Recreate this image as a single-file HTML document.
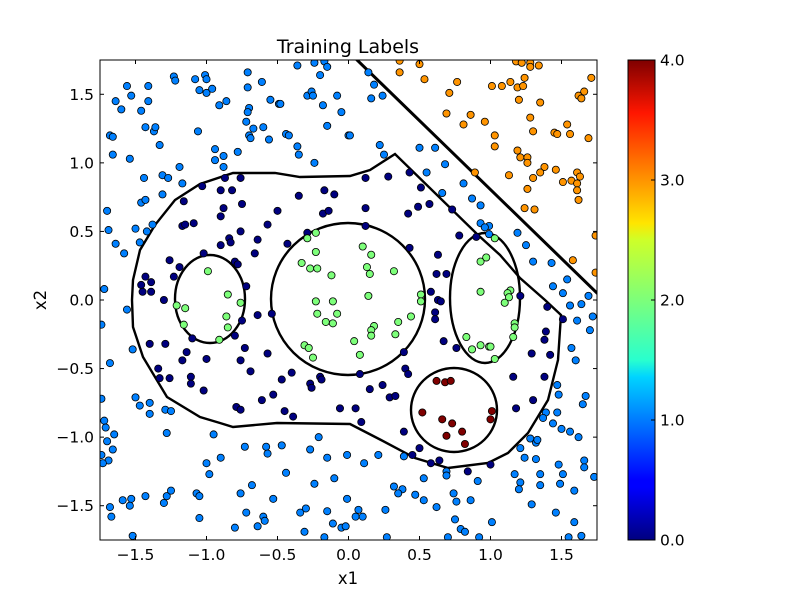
<!DOCTYPE html>
<html><head><meta charset="utf-8"><style>
body{margin:0;background:#fff;width:800px;height:600px;overflow:hidden}
svg{font-family:"DejaVu Sans","Liberation Sans",sans-serif}
</style></head><body>
<svg id="chart" width="800" height="600" viewBox="0 0 800 600">
<defs>
<linearGradient id="jet" x1="0" y1="1" x2="0" y2="0">
<stop offset="0" stop-color="#00007f"/><stop offset="0.11" stop-color="#0000ff"/><stop offset="0.125" stop-color="#0000ff"/>
<stop offset="0.34" stop-color="#00d4ff"/><stop offset="0.375" stop-color="#29ffce"/><stop offset="0.5" stop-color="#7dff7a"/>
<stop offset="0.625" stop-color="#ceff29"/><stop offset="0.66" stop-color="#ffe500"/><stop offset="0.89" stop-color="#ff1600"/>
<stop offset="1" stop-color="#7f0000"/></linearGradient>
<clipPath id="clip"><rect x="100" y="60" width="497" height="480"/></clipPath>
</defs>
<rect x="0" y="0" width="800" height="600" fill="#fff"/>
<text x="348" y="53" font-size="19" text-anchor="middle">Training Labels</text>
<g clip-path="url(#clip)" fill="none" stroke="#000" stroke-width="2.4">
<path stroke-width="3" d="M355,58 L598,294"/>
<path d="M132,300 L133,327 L143,357 L167,397 L200,417 L220,423 L233,427 L277,423 L350,424 L381,440 L415,458 L448,468 L488,463 L508,453 L528,433 L548,400 L558,360 L561,315 L545,300 L520,278 L500,255 L478,235 L395,154 L370,170 L350,176 L300,177 L275,173 L233,173 L200,184 L175,200 L155,225 L140,250 L133,280 Z"/>
<ellipse cx="210" cy="299" rx="35" ry="44"/>
<ellipse cx="348" cy="299" rx="77" ry="76"/>
<ellipse cx="485" cy="298" rx="35" ry="65"/>
<ellipse cx="454" cy="410" rx="43" ry="42"/>
</g>
<g id="points" clip-path="url(#clip)"></g>
<rect x="100" y="60" width="497" height="480" fill="none" stroke="#000" stroke-width="1"/>
<g id="axes" font-size="15.5"></g>
<text x="348" y="584" font-size="16.5" text-anchor="middle">x1</text>
<text x="46" y="300" font-size="16.5" text-anchor="middle" transform="rotate(-90 46 300)">x2</text>
<rect x="628" y="60" width="27" height="480" fill="url(#jet)" stroke="#000" stroke-width="1"/>
<g id="cbar" font-size="15.5"></g>
</svg>
<script>
const xTicks=[-1.5,-1.0,-0.5,0.0,0.5,1.0,1.5];
const yTicks=[-1.5,-1.0,-0.5,0.0,0.5,1.0,1.5];
const cTicks=[0,1,2,3,4];
const cTickLabels=["0.0","1.0","2.0","3.0","4.0"];
const classColors=["#00007f","#0080ff","#7dff7a","#ff9400","#7f0000"];
const class1=[[-1.23,1.63],[-1.22,1.60],[-1.08,1.61],[-1.01,1.64],[-1.00,1.61],[-1.05,1.53],[-1.00,1.51],[-0.96,1.54],[-0.71,1.66],[-0.61,1.59],[-0.71,1.55],[-0.36,1.71],[-0.24,1.73],[-0.17,1.74],[-0.20,1.64],[-0.15,1.70],[-1.56,1.56],[-1.41,1.56],[-1.53,1.49],[-1.64,1.45],[-1.60,1.39],[-1.41,1.45],[-1.46,1.38],[-0.91,1.42],[-0.86,1.45],[-0.70,1.40],[-0.71,1.37],[-0.72,1.30],[-0.55,1.46],[-0.49,1.43],[-0.48,1.43],[-0.29,1.49],[-0.26,1.52],[-0.25,1.49],[-0.18,1.42],[-0.08,1.49],[-0.05,1.37],[-1.68,1.20],[-1.66,1.19],[-1.43,1.26],[-1.37,1.23],[-1.36,1.26],[-1.33,1.13],[-1.06,1.23],[-0.70,1.20],[-0.69,1.18],[-0.67,1.25],[-0.60,1.26],[-0.56,1.17],[-0.44,1.21],[-0.42,1.20],[-0.36,1.12],[-0.35,1.06],[-0.24,1.00],[-0.15,1.27],[0.00,1.20],[-1.66,1.06],[-1.54,1.03],[-0.94,1.10],[-0.88,1.05],[-0.94,1.02],[-0.88,0.97],[-0.78,1.08],[-1.19,0.97],[-1.44,0.89],[-1.31,0.91],[-1.27,0.89],[-1.17,0.85],[-1.31,0.77],[-1.46,0.71],[-1.43,0.73],[-1.70,0.65],[-1.69,0.51],[-1.50,0.52],[-1.38,0.55],[-1.42,0.50],[-1.64,0.41],[-1.47,0.42],[-1.58,0.34],[-1.72,0.08],
[0.14,1.66],[0.18,1.57],[0.24,1.49],[0.16,1.47],[0.01,1.20],[0.22,1.13],[0.25,1.06],[0.50,1.11],[0.61,1.11],[0.68,0.99],[0.55,0.93],[0.81,0.85],[0.66,0.78],[0.87,0.74],[0.93,0.69],[0.93,0.56],[0.99,0.54],[0.96,0.53],[0.99,0.48],[1.19,0.49],[1.25,0.40],[1.30,0.28],[1.43,0.27],[1.54,0.15],[1.44,0.10],[1.51,0.05],[1.69,0.03],
[-1.56,-0.07],[-1.74,-0.18],[-1.52,-0.36],[-1.68,-0.46],[-1.74,-0.72],[-1.50,-0.71],[-1.47,-0.77],[-1.40,-0.75],[-1.40,-0.83],[-1.29,-0.80],[-1.25,-0.81],[-1.28,-0.97],[-1.72,-0.88],[-1.71,-0.93],[-1.70,-1.03],[-1.65,-0.98],[-1.66,-1.09],[-1.69,-1.17],[-1.74,-1.13],[-1.73,-1.19],[-0.95,-0.98],[-0.73,-1.07],[-0.58,-1.07],[-0.57,-1.12],[-0.47,-1.06],[-0.90,-1.15],[-1.00,-1.19],[-0.98,-1.27],[-0.68,-1.35],[-0.44,-1.26],[-0.27,-1.09],[-0.21,-1.00],[-0.15,-1.15],[-0.01,-1.13],[-0.24,-1.34],[-0.10,-1.30],[-1.59,-1.46],[-1.53,-1.45],[-1.54,-1.50],[-1.43,-1.43],[-1.30,-1.48],[-1.28,-1.43],[-1.25,-1.39],[-1.07,-1.41],[-1.05,-1.43],[-0.76,-1.41],[-0.53,-1.45],[-1.68,-1.51],[-1.67,-1.58],[-0.72,-1.55],[-1.05,-1.59],[-0.60,-1.58],[-0.59,-1.61],[-0.80,-1.66],[-0.64,-1.65],[-0.34,-1.55],[-0.30,-1.52],[-0.15,-1.54],[-0.31,-1.69],[-0.17,-1.73],[-0.11,-1.63],[-0.05,-1.66],[-0.02,-1.65],[-0.01,-1.45],[-1.52,-1.72],
[1.56,-0.04],[1.64,-0.03],[1.72,-0.12],[1.61,-0.15],[1.70,-0.22],[1.57,-0.35],[1.60,-0.44],[1.47,-0.62],[1.48,-0.69],[1.67,-0.70],[1.65,-0.76],[1.47,-0.82],[1.39,-0.82],[1.37,-0.86],[1.44,-0.90],[1.50,-0.94],[1.56,-0.96],[1.62,-1.00],[1.28,-1.01],[1.32,-1.04],[1.33,-1.02],[1.21,-1.08],[1.24,-1.15],[1.32,-1.16],[1.48,-1.20],[1.66,-1.17],[1.66,-1.22],[1.73,-1.29],[1.51,-1.27],[1.49,-1.34],[1.35,-1.27],[1.35,-1.35],[1.59,-1.39],[1.17,-1.27],[1.21,-1.33],[1.20,-1.38],[1.29,-1.49],[1.46,-1.55],[1.59,-1.62],[1.64,-1.72],[1.55,-1.73],[0.21,-1.13],[0.11,-1.19],[0.39,-1.14],[0.53,-1.30],[0.69,-1.25],[0.69,-1.28],[0.91,-1.32],[0.32,-1.36],[0.38,-1.38],[0.35,-1.41],[0.47,-1.42],[0.53,-1.46],[0.74,-1.41],[0.76,-1.47],[0.86,-1.46],[0.62,-1.51],[0.26,-1.53],[0.07,-1.53],[0.05,-1.58],[0.10,-1.58],[0.75,-1.60],[0.79,-1.67],[0.82,-1.69],[1.01,-1.62],[0.92,-1.73],[0.70,-1.73],[0.27,-1.73]];
const class0=[[-0.87,0.89],[-0.76,0.89],[-1.03,0.83],[-0.90,0.80],[-0.82,0.80],[-1.16,0.72],[-0.88,0.67],[-0.75,0.70],[-0.90,0.61],[-0.50,0.65],[-0.35,0.76],[-0.17,0.80],[-0.10,0.77],[-0.18,0.63],[-0.14,0.65],[-1.17,0.54],[-1.15,0.55],[-1.09,0.56],[-0.57,0.55],[-0.76,0.50],[-0.29,0.49],[-0.84,0.45],[-0.83,0.42],[-0.90,0.40],[-0.64,0.44],[-0.43,0.41],[-0.66,0.34],[-1.02,0.34],[-1.26,0.29],[-1.19,0.24],[-0.80,0.28],[-0.78,0.26],[-1.43,0.17],[-1.39,0.13],[-1.46,0.11],[-1.45,0.06],[-1.39,0.06],[-1.23,0.17],[-0.72,0.10],[-1.30,0.00],
[0.12,0.89],[0.28,0.90],[0.43,0.93],[0.51,0.82],[0.12,0.67],[0.49,0.68],[0.57,0.70],[0.42,0.63],[0.73,0.66],[0.12,0.54],[0.78,0.47],[0.90,0.46],[0.43,0.38],[0.63,0.33],[0.62,0.19],[0.69,0.19],[0.58,0.06],[0.63,0.00],[1.21,0.03],
[-0.64,-0.11],[-0.54,-0.10],[-0.75,-0.15],[-0.80,-0.26],[-1.10,-0.28],[-1.40,-0.32],[-1.29,-0.32],[-1.14,-0.38],[-1.17,-0.44],[-1.00,-0.43],[-0.73,-0.35],[-0.76,-0.44],[-0.57,-0.39],[-0.69,-0.52],[-1.34,-0.50],[-1.33,-0.57],[-1.26,-0.57],[-1.11,-0.56],[-1.11,-0.61],[-1.02,-0.66],[-0.47,-0.58],[-0.40,-0.53],[-0.27,-0.61],[-0.26,-0.64],[-0.20,-0.56],[-0.19,-0.58],[-0.61,-0.73],[-0.53,-0.69],[-0.79,-0.78],[-0.76,-0.80],[-0.45,-0.81],[-0.39,-0.85],[-0.06,-0.79],
[0.65,-0.01],[0.61,-0.09],[0.61,-0.14],[0.67,-0.30],[0.76,-0.35],[0.39,-0.38],[0.40,-0.50],[0.42,-0.54],[0.08,-0.54],[0.24,-0.62],[0.15,-0.65],[0.29,-0.71],[0.33,-0.70],[0.05,-0.79],[0.09,-0.89],[0.39,-0.96],[0.50,-1.08],[0.45,-1.13],[0.58,-1.19],[0.64,-1.17],[0.84,-1.25],[1.00,-1.20],[1.16,-0.56],[1.18,-0.79],[1.29,-0.39],[1.42,-0.40],[1.38,-0.56],[1.30,-0.73],[1.39,-0.23],[1.38,-0.29],[1.51,-0.14],[1.40,-0.05]];
const class2=[[-0.29,0.45],[-0.23,0.49],[-0.23,0.35],[-0.33,0.27],[-0.27,0.23],[-0.22,0.23],[-0.12,0.18],[-0.99,0.21],[-0.85,0.04],
[0.10,0.39],[0.16,0.33],[0.13,0.24],[0.15,0.19],[0.32,0.21],[0.14,0.03],[0.51,0.04],[0.93,0.28],[0.97,0.31],[1.03,0.45],[0.93,0.06],[1.14,0.07],[1.12,0.05],[1.13,0.02],
[-1.21,-0.04],[-1.15,-0.06],[-0.76,-0.02],[-0.86,-0.12],[-1.16,-0.18],[-0.85,-0.20],[-0.91,-0.29],[-0.23,-0.01],[-0.11,-0.01],[-0.22,-0.10],[-0.08,-0.10],[-0.16,-0.16],[-0.11,-0.17],[-0.31,-0.33],[-0.28,-0.35],[-0.25,-0.42],
[0.51,-0.01],[1.10,-0.02],[0.18,-0.19],[0.16,-0.22],[0.16,-0.26],[0.35,-0.16],[0.44,-0.12],[0.33,-0.25],[0.04,-0.30],[0.08,-0.40],[0.83,-0.27],[0.87,-0.36],[0.93,-0.33],[0.99,-0.34],[1.00,-0.34],[1.03,-0.43],[1.17,-0.17],[1.17,-0.20],[1.16,-0.27]];
const class3=[[0.36,1.745],[0.50,1.72],[0.36,1.66],[0.535,1.61],[0.765,1.59],[0.71,1.51],[0.69,1.36],[0.86,1.35],[0.81,1.28],[0.96,1.30],[1.01,1.56],[1.08,1.56],[1.14,1.59],[1.19,1.55],[1.23,1.56],[1.24,1.62],[1.18,1.74],[1.22,1.73],[1.28,1.73],[1.28,1.70],[1.34,1.71],[1.20,1.46],[1.35,1.44],[1.28,1.33],[1.30,1.23],[1.45,1.22],[1.47,1.21],[1.54,1.28],[1.56,1.21],[1.69,1.18],[1.71,1.62],[1.62,1.49],[1.66,1.52],[1.64,1.47],[1.03,1.20],[1.03,1.12],[1.19,1.09],[1.21,1.04],[1.26,1.04],[1.26,1.00],[1.38,0.97],[1.35,0.93],[1.30,0.89],[1.13,0.91],[0.89,0.93],[1.46,0.95],[1.51,0.86],[1.57,0.87],[1.61,0.93],[1.63,0.90],[1.61,0.85],[1.61,0.80],[1.62,0.73],[1.26,0.81],[1.24,0.67],[1.31,0.66],[1.74,0.47],[1.74,0.20],[1.58,0.29]];
const class4=[[0.62,-0.59],[0.68,-0.60],[0.72,-0.59],[0.52,-0.82],[0.66,-0.87],[0.73,-0.90],[1.01,-0.81],[1.00,-0.87],[0.80,-0.96],[0.69,-0.99],[0.82,-1.05]];

const X0=100,X1=597,Y0=540,Y1=60,XMIN=-1.75,XMAX=1.75,YMIN=-1.75,YMAX=1.75;
function sx(v){return X0+(v-XMIN)/(XMAX-XMIN)*(X1-X0);}
function sy(v){return Y0-(v-YMIN)/(YMAX-YMIN)*(Y0-Y1);}
function cy(v){return 540-v/4*480;}
const NS="http://www.w3.org/2000/svg";
function mk(tag,attrs,parent){const e=document.createElementNS(NS,tag);for(const k in attrs)e.setAttribute(k,attrs[k]);parent.appendChild(e);return e;}
const pg=document.getElementById('points');
[class1,class0,class2,class3,class4].forEach(function(arr,idx){
  const cls=[1,0,2,3,4][idx];
  arr.forEach(function(p){
    const c=mk('circle',{cx:sx(p[0]),cy:sy(p[1]),r:3.6,fill:classColors[cls],stroke:'#000','stroke-width':0.8},pg);
    
    
  });
});
const ax=document.getElementById('axes');
xTicks.forEach(function(t){
  const x=sx(t);
  const l1=mk('line',{x1:x,y1:540,x2:x,y2:536,stroke:'#000'},ax);
  
  
  const l2=mk('line',{x1:x,y1:60,x2:x,y2:64,stroke:'#000'},ax);
  
  
  const tx=mk('text',{x:x,y:560,'text-anchor':'middle'},ax);tx.textContent=(t<0?'\u2212':'')+Math.abs(t).toFixed(1);
  
  
});
yTicks.forEach(function(t){
  const y=sy(t);
  const l1=mk('line',{x1:100,y1:y,x2:104,y2:y,stroke:'#000'},ax);
  
  
  const l2=mk('line',{x1:597,y1:y,x2:593,y2:y,stroke:'#000'},ax);
  
  
  const tx=mk('text',{x:94,y:y+5.5,'text-anchor':'end'},ax);tx.textContent=(t<0?'\u2212':'')+Math.abs(t).toFixed(1);
  
  
});
const cb=document.getElementById('cbar');
cTicks.forEach(function(t,i){
  const y=cy(t);
  const l=mk('line',{x1:651,y1:y,x2:655,y2:y,stroke:'#000'},cb);
  
  
  const tx=mk('text',{x:660,y:y+5.5},cb);tx.textContent=cTickLabels[i];
  
  
});
</script>
</body></html>
